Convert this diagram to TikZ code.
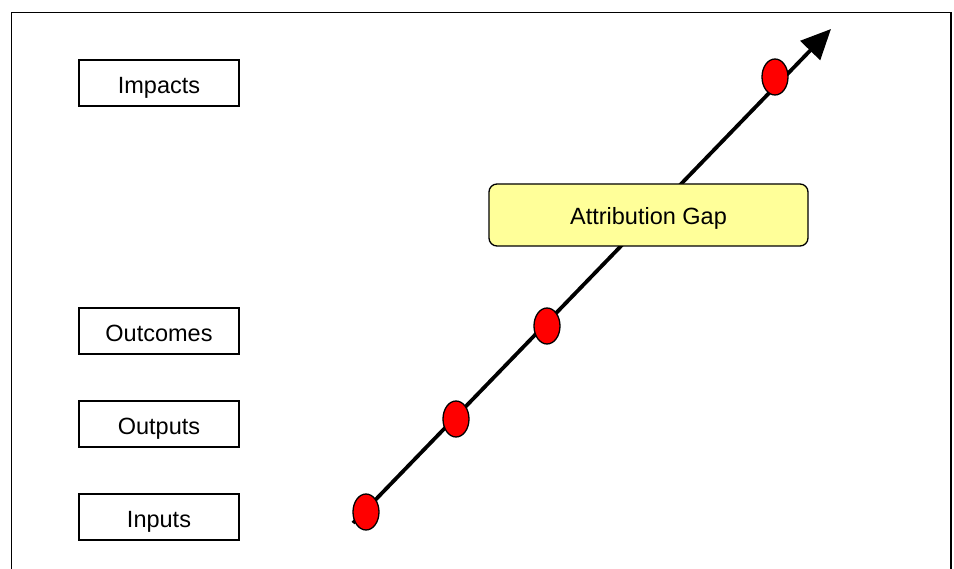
\documentclass[tikz,border=0pt]{standalone}
\usepackage{fontspec}
\setmainfont{Liberation Sans}
\usetikzlibrary{arrows.meta, positioning, shapes.geometric}
\definecolor{gapyellow}{RGB}{255,255,153}
\definecolor{dotred}{RGB}{255,0,0}

\begin{document}
\begin{tikzpicture}[
  x=1pt, y=-1pt,
  level/.style={rectangle, draw=black, line width=1.3pt, minimum width=160pt, minimum height=46pt, text height=21pt, text depth=0pt, font=\fontsize{23.5}{26}\selectfont},
  gap/.style={rectangle, draw=black, line width=1.3pt, fill=gapyellow, rounded corners=8pt, minimum width=319pt, minimum height=62pt, text height=19pt, text depth=0pt, font=\fontsize{23.5}{26}\selectfont},
  dot/.style={ellipse, draw=black, line width=1.3pt, fill=dotred, minimum width=26pt, minimum height=36pt, inner sep=0pt},
  arrow/.style={-{Triangle[length=30pt, width=27pt]}, line width=3.8pt, color=black}
]
  \useasboundingbox (0,0) rectangle (954,569);
  \draw[line width=1.3pt] (11.5,569) -- (11.5,12.5) -- (951,12.5) -- (951,569);

  \node[level] (impacts) at (159,83) {Impacts};
  \node[level] (outcomes) at (159,331) {Outcomes};
  \node[level] (outputs) at (159,424) {Outputs};
  \node[level] (inputs) at (159,517) {Inputs};

  \coordinate (start) at (353,523);
  \coordinate (tip) at (831,29);
  \draw[arrow] (start) -- (tip);

  \node[gap] (attgap) at (648.5,215) {Attribution Gap};

  \node[dot] (dinputs) at (366,512) {};
  \node[dot] (doutputs) at (456,419) {};
  \node[dot] (doutcomes) at (547,326) {};
  \node[dot] (dimpacts) at (775,77) {};

\end{tikzpicture}
\end{document}
